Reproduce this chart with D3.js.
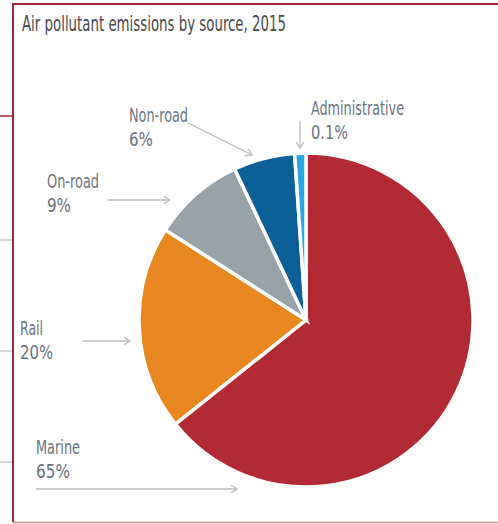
<!DOCTYPE html>
<html>
<head>
<meta charset="utf-8">
<script src="https://cdn.jsdelivr.net/npm/d3@7"></script>
<style>
  html, body { margin: 0; padding: 0; background: #fff; }
  svg { display: block; }
  text { font-family: "Liberation Sans Narrow", "DejaVu Sans Condensed", "Roboto", sans-serif; }
</style>
</head>
<body>
<svg id="chart" width="498" height="524"></svg>
<script>
// ---- data ----
const title = "Air pollutant emissions by source, 2015";
const categories = ["Marine", "Rail", "On-road", "Non-road", "Administrative"];
const shares = [65, 20, 9, 6, 0.1];           // percent
const shareLabels = ["65%", "20%", "9%", "6%", "0.1%"];
const colors = ["#b22a33", "#e8871f", "#97a2a8", "#0c6098", "#2aa7e0"];

// ---- layout ----
const W = 498, H = 524;
const cx = 306, cy = 320, R = 167;
const minVisibleShare = 1.1; // keeps the tiny slice visible

const svg = d3.select("#chart");

// frame
const frameRed = "#a8282f";
svg.append("line").attr("x1", 13).attr("x2", 13).attr("y1", 3).attr("y2", 522)
  .attr("stroke", frameRed).attr("stroke-width", 2);
svg.append("line").attr("x1", 12).attr("x2", W).attr("y1", 4).attr("y2", 4)
  .attr("stroke", frameRed).attr("stroke-width", 2);
svg.append("line").attr("x1", 0).attr("x2", 13).attr("y1", 116).attr("y2", 116)
  .attr("stroke", frameRed).attr("stroke-width", 1.5);
svg.append("line").attr("x1", 13).attr("x2", W).attr("y1", 522.5).attr("y2", 522.5)
  .attr("stroke", "#c98b8f").attr("stroke-width", 1.5);
[240, 351, 462].forEach(y => {
  svg.append("line").attr("x1", 0).attr("x2", 12).attr("y1", y).attr("y2", y)
    .attr("stroke", "#b5bec6").attr("stroke-width", 1.2);
});

// title
svg.append("text").attr("x", 22).attr("y", 31)
  .attr("font-size", 22).attr("fill", "#48494b")
  .attr("textLength", 264).attr("lengthAdjust", "spacingAndGlyphs")
  .text(title);

// pie
const data = categories.map((c, i) => ({ name: c, value: shares[i], label: shareLabels[i], color: colors[i] }));
const pie = d3.pie().sort(null).value(d => Math.max(d.value, minVisibleShare)).startAngle(0).endAngle(2 * Math.PI);
const arc = d3.arc().innerRadius(0).outerRadius(R);
const g = svg.append("g").attr("transform", `translate(${cx},${cy})`);
g.selectAll("path").data(pie(data)).join("path")
  .attr("d", arc)
  .attr("fill", d => d.data.color)
  .attr("stroke", "#fff").attr("stroke-width", 3.5).attr("stroke-linejoin", "miter");

// labels
const labelColor = "#6b7480";
const labelPos = {
  "Administrative": { x: 311, y: 115, w1: 93, w2: 37 },
  "Non-road": { x: 129, y: 122, w1: 59, w2: 24 },
  "On-road": { x: 47, y: 188, w1: 52, w2: 24 },
  "Rail": { x: 20, y: 335, w1: 23, w2: 33 },
  "Marine": { x: 36, y: 454, w1: 44, w2: 34 }
};
const lineGap = 24;
data.forEach(d => {
  const p = labelPos[d.name];
  svg.append("text").attr("x", p.x).attr("y", p.y).attr("font-size", 20).attr("fill", labelColor)
    .attr("textLength", p.w1).attr("lengthAdjust", "spacingAndGlyphs").text(d.name);
  svg.append("text").attr("x", p.x).attr("y", p.y + lineGap).attr("font-size", 20).attr("fill", labelColor)
    .attr("textLength", p.w2).attr("lengthAdjust", "spacingAndGlyphs").text(d.label);
});

// arrows
const arrows = [
  { from: [300, 121], to: [300, 148] },
  { from: [188, 123], to: [252, 155] },
  { from: [107, 200], to: [170, 200] },
  { from: [82, 341], to: [130, 341] },
  { from: [36, 489], to: [237, 489] }
];
const arrowColor = "#b9bcbf";
arrows.forEach(a => {
  const [x1, y1] = a.from, [x2, y2] = a.to;
  const ang = Math.atan2(y2 - y1, x2 - x1);
  const hl = 7, spread = Math.PI / 5.5;
  svg.append("line").attr("x1", x1).attr("y1", y1).attr("x2", x2).attr("y2", y2)
    .attr("stroke", arrowColor).attr("stroke-width", 1.3);
  const p1 = [x2 - hl * Math.cos(ang - spread), y2 - hl * Math.sin(ang - spread)];
  const p2 = [x2 - hl * Math.cos(ang + spread), y2 - hl * Math.sin(ang + spread)];
  svg.append("path").attr("d", `M${p1[0]},${p1[1]}L${x2},${y2}L${p2[0]},${p2[1]}`)
    .attr("fill", "none").attr("stroke", arrowColor).attr("stroke-width", 1.3);
});
</script>
</body>
</html>
